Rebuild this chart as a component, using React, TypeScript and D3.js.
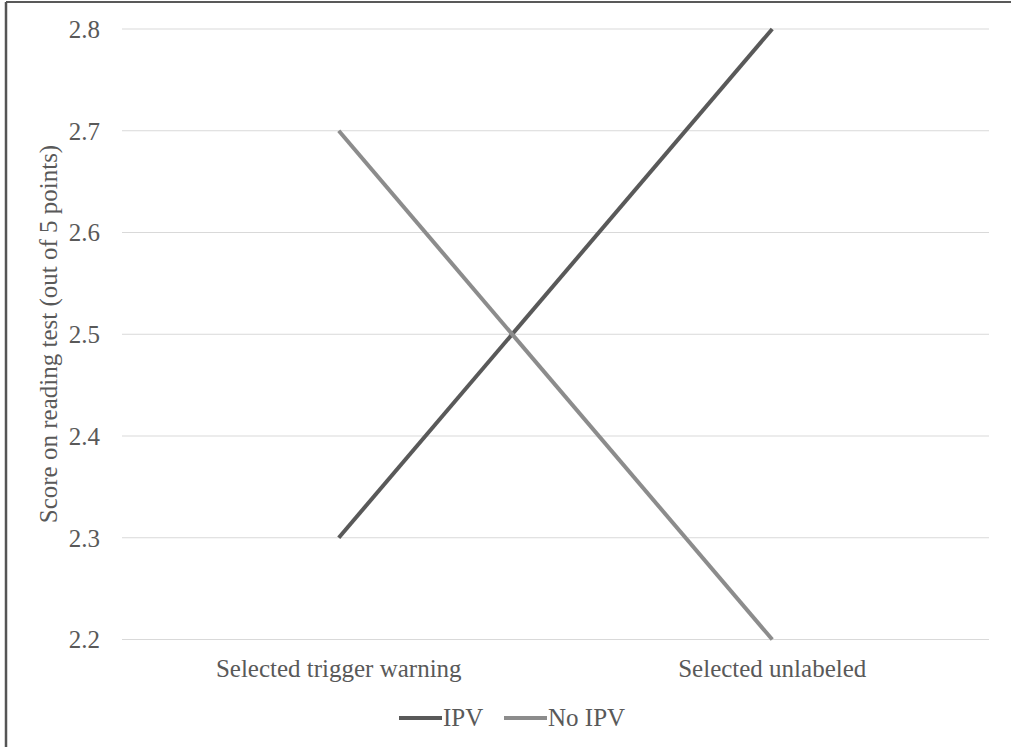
import { useRef, useEffect } from 'react';
import * as d3 from 'd3';

const categories = ['Selected trigger warning', 'Selected unlabeled'];
const ipv = [2.3, 2.8];
const noIpv = [2.7, 2.2];
const yTicks = [2.2, 2.3, 2.4, 2.5, 2.6, 2.7, 2.8];

const seriesList = [
  { label: 'IPV', values: ipv, color: '#595959' },
  { label: 'No IPV', values: noIpv, color: '#8c8c8c' },
];

const W = 1011;
const H = 747;
const FONT = "'Liberation Serif', 'Times New Roman', serif";

function App() {
  const ref = useRef<SVGSVGElement | null>(null);

  useEffect(() => {
    const svg = d3.select(ref.current);
    svg.selectAll('*').remove();

    // frame (cropped: only top and left edges visible)
    svg.append('rect').attr('x', 0).attr('y', 0).attr('width', W).attr('height', H).attr('fill', '#fff');
    svg.append('line').attr('x1', 6).attr('x2', W).attr('y1', 2).attr('y2', 2)
      .attr('stroke', '#222').attr('stroke-width', 1.5);
    svg.append('line').attr('x1', 6).attr('x2', 6).attr('y1', 2).attr('y2', H)
      .attr('stroke', '#555').attr('stroke-width', 2.5);

    const x = d3.scaleBand<string>().domain(categories).range([122, 989]);
    const y = d3.scaleLinear().domain([2.2, 2.8]).range([639.5, 29]);

    // gridlines
    svg.append('g')
      .selectAll('line')
      .data(yTicks)
      .join('line')
      .attr('x1', 122)
      .attr('x2', 989)
      .attr('y1', d => y(d))
      .attr('y2', d => y(d))
      .attr('stroke', '#d9d9d9')
      .attr('stroke-width', 1);

    // y tick labels
    svg.append('g')
      .selectAll('text')
      .data(yTicks)
      .join('text')
      .attr('x', 100)
      .attr('y', d => y(d))
      .attr('dy', '0.35em')
      .attr('text-anchor', 'end')
      .style('font-family', FONT)
      .style('font-size', '25px')
      .attr('fill', '#595959')
      .text(d => d.toFixed(1));

    // x category labels
    svg.append('g')
      .selectAll('text')
      .data(categories)
      .join('text')
      .attr('x', d => x(d)! + x.bandwidth() / 2)
      .attr('y', 677)
      .attr('text-anchor', 'middle')
      .style('font-family', FONT)
      .style('font-size', '25px')
      .attr('fill', '#595959')
      .text(d => d);

    // y axis title
    svg.append('text')
      .attr('transform', `translate(57,${334}) rotate(-90)`)
      .attr('text-anchor', 'middle')
      .style('font-family', FONT)
      .style('font-size', '25px')
      .attr('fill', '#595959')
      .text('Score on reading test (out of 5 points)');

    // lines
    seriesList.forEach(s => {
      const line = d3
        .line<number>()
        .x((_, i) => x(categories[i])! + x.bandwidth() / 2)
        .y(d => y(d));
      svg.append('path')
        .datum(s.values)
        .attr('fill', 'none')
        .attr('stroke', s.color)
        .attr('stroke-width', 4)
        .attr('d', line);
    });

    // legend
    const legendX = [399, 504];
    const legend = svg.append('g');
    seriesList.forEach((s, i) => {
      legend.append('line')
        .attr('x1', legendX[i])
        .attr('x2', legendX[i] + 43)
        .attr('y1', 718)
        .attr('y2', 718)
        .attr('stroke', s.color)
        .attr('stroke-width', 4);
      legend.append('text')
        .attr('x', legendX[i] + 44)
        .attr('y', 726)
        .style('font-family', FONT)
        .style('font-size', '25px')
        .attr('fill', '#595959')
        .text(s.label);
    });
  }, []);

  return (
    <svg
      ref={ref}
      width={W}
      height={H}
      style={{ position: 'absolute', left: 0, top: 0, display: 'block' }}
    />
  );
}

export default App;
